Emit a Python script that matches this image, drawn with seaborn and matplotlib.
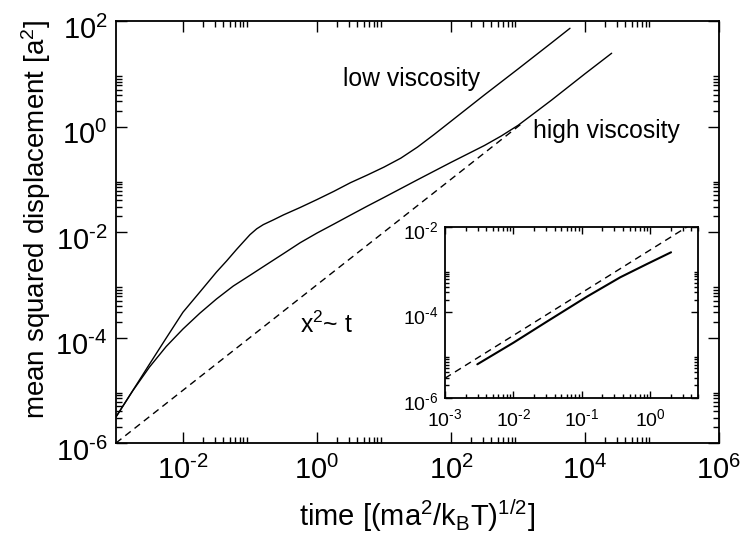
import numpy as np
import pandas as pd
import matplotlib
matplotlib.use("Agg")
import matplotlib.pyplot as plt
from matplotlib.ticker import FixedLocator, FuncFormatter, NullFormatter
from matplotlib.transforms import ScaledTranslation
import seaborn as sns

# ---------------- data ----------------
low_visc_t = [1.0e-3, 1.78e-3, 3.16e-3, 5.62e-3, 1.0e-2, 1.78e-2, 3.16e-2, 4.47e-2,
              6.31e-2, 7.94e-2, 0.1, 0.126, 0.158, 0.224, 0.316, 0.562, 1.0, 1.78,
              3.16, 5.62, 10.0, 17.8, 31.6, 56.2, 100.0, 316.0, 1000.0, 3160.0, 5970.0]
low_visc_msd = [3.12e-6, 9.86e-6, 3.12e-5, 9.77e-5, 3.02e-4, 7.24e-4, 1.74e-3, 2.82e-3,
                4.68e-3, 6.46e-3, 8.91e-3, 1.15e-2, 1.38e-2, 1.70e-2, 2.11e-2, 2.92e-2,
                4.12e-2, 5.89e-2, 8.61e-2, 0.120, 0.170, 0.251, 0.407, 0.708, 1.259,
                3.98, 12.3, 38.5, 72.8]

high_visc_t = [1.0e-3, 1.78e-3, 3.16e-3, 5.62e-3, 1.0e-2, 1.78e-2, 3.16e-2, 5.62e-2,
               0.1, 0.178, 0.316, 0.562, 1.0, 1.78, 3.16, 5.62, 10.0, 31.6, 100.0,
               316.0, 562.0, 1000.0, 1780.0, 3160.0, 10000.0, 25000.0]
high_visc_msd = [3.12e-6, 9.77e-6, 2.75e-5, 6.76e-5, 1.45e-4, 2.88e-4, 5.37e-4, 9.44e-4,
                 1.51e-3, 2.43e-3, 3.89e-3, 6.27e-3, 9.55e-3, 1.41e-2, 2.09e-2, 3.09e-2,
                 4.52e-2, 9.77e-2, 0.209, 0.437, 0.661, 1.05, 1.82, 3.16, 10.0, 24.5]

diffusive_t = [1e-3, 1.2e3]
diffusive_msd = [1e-6, 1.2]

inset_t = [2.97e-3, 1e-2, 3.08e-2, 0.1186, 0.366, 0.897, 2.02]
inset_msd = [6.14e-6, 1.96e-5, 6.10e-5, 2.34e-4, 6.67e-4, 1.36e-3, 2.56e-3]
inset_ref_t = [1e-3, 5.0]
inset_ref_msd = [2.9e-6, 1.45e-2]

main_major_x = [1e-2, 1e0, 1e2, 1e4, 1e6]
main_major_y = [1e-6, 1e-4, 1e-2, 1e0, 1e2]
inset_major_x = [1e-3, 1e-2, 1e-1, 1e0]
inset_major_y = [1e-6, 1e-4, 1e-2]

labels = {
    "low": "low viscosity",
    "high": "high viscosity",
    "slope": "x$^2$~ t",
    "xlabel": "time [(ma$^2$/k$_B$T)$^{1/2}$]",
    "ylabel": "mean squared displacement [a$^2$]",
}

# ---------------- style ----------------
sns.set_theme(style="ticks")
plt.rcParams.update({
    "font.family": ["Liberation Sans", "DejaVu Sans"],
    "mathtext.fontset": "custom",
    "mathtext.rm": "Liberation Sans",
    "mathtext.it": "Liberation Sans:italic",
    "mathtext.bf": "Liberation Sans:bold",
    "mathtext.default": "regular",
    "axes.unicode_minus": False,
    "axes.linewidth": 1.3,
    "axes.edgecolor": "black",
    "axes.labelcolor": "black",
    "text.color": "black",
    "xtick.color": "black",
    "ytick.color": "black",
    "axes.facecolor": "white",
    "figure.facecolor": "white",
})


def pow10(v, pos):
    e = int(round(np.log10(v)))
    return "10$^{\\text{%d}}$" % e


fig = plt.figure(figsize=(7.43, 5.36), dpi=100)
ax = fig.add_axes([0.1561, 0.1735, 0.8116, 0.7873])

df_low = pd.DataFrame({"t": low_visc_t, "msd": low_visc_msd})
df_high = pd.DataFrame({"t": high_visc_t, "msd": high_visc_msd})
df_diff = pd.DataFrame({"t": diffusive_t, "msd": diffusive_msd})

sns.lineplot(data=df_low, x="t", y="msd", ax=ax, color="black", lw=1.0,
             estimator=None, sort=False)
sns.lineplot(data=df_high, x="t", y="msd", ax=ax, color="black", lw=1.0,
             estimator=None, sort=False)
sns.lineplot(data=df_diff, x="t", y="msd", ax=ax, color="black", lw=1.0,
             linestyle=(0, (5, 3.5)), estimator=None, sort=False)


def setup_log_axes(a, xlim, ylim, xmaj, ymaj, xmin_dec, ymin_dec, fs, lmaj, lmin,
                   xpad, ypad):
    a.set_xscale("log")
    a.set_yscale("log")
    a.set_xlim(*xlim)
    a.set_ylim(*ylim)
    a.xaxis.set_major_locator(FixedLocator(xmaj))
    a.yaxis.set_major_locator(FixedLocator(ymaj))
    a.xaxis.set_minor_locator(FixedLocator([m * d for d in xmin_dec for m in range(2, 10)]))
    a.yaxis.set_minor_locator(FixedLocator([m * d for d in ymin_dec for m in range(2, 10)]))
    a.xaxis.set_major_formatter(FuncFormatter(pow10))
    a.yaxis.set_major_formatter(FuncFormatter(pow10))
    a.xaxis.set_minor_formatter(NullFormatter())
    a.yaxis.set_minor_formatter(NullFormatter())
    a.tick_params(which="both", direction="in", top=True, right=True, width=1.0,
                  labelsize=fs)
    a.tick_params(axis="x", pad=xpad)
    a.tick_params(axis="y", pad=ypad)
    a.tick_params(which="major", length=lmaj)
    a.tick_params(which="minor", length=lmin)
    for s in a.spines.values():
        s.set_visible(True)
        s.set_color("black")


setup_log_axes(ax, (1e-3, 1e6), (1e-6, 1e2), main_major_x, main_major_y,
               [1e-2, 1e0, 1e2, 1e4], [1e-6, 1e-4, 1e-2, 1e0], 21, 8, 4.5, 9.5, 6)

ax.set_xlabel(labels["xlabel"], fontsize=21)
ax.set_ylabel(labels["ylabel"], fontsize=20)
ax.yaxis.set_label_coords(-0.105, 0.53)
ax.xaxis.set_label_coords(0.5, -0.128)

ax.text(0.3765, 0.846, labels["low"], transform=ax.transAxes, fontsize=17.8,
        ha="left", va="baseline")
ax.text(0.6915, 0.7235, labels["high"], transform=ax.transAxes, fontsize=17.8,
        ha="left", va="baseline")
ax.text(0.305, 0.261, labels["slope"], transform=ax.transAxes, fontsize=17.8,
        ha="left", va="baseline")

# ---------------- inset ----------------
axi = fig.add_axes([0.5989, 0.2575, 0.3405, 0.3190])
df_in = pd.DataFrame({"t": inset_t, "msd": inset_msd})
df_in_ref = pd.DataFrame({"t": inset_ref_t, "msd": inset_ref_msd})
sns.lineplot(data=df_in, x="t", y="msd", ax=axi, color="black", lw=1.5,
             estimator=None, sort=False)
sns.lineplot(data=df_in_ref, x="t", y="msd", ax=axi, color="black", lw=1.0,
             linestyle=(0, (5, 3.5)), estimator=None, sort=False)
setup_log_axes(axi, (1e-3, 5.0), (1e-6, 1e-2), inset_major_x, inset_major_y,
               [1e-3, 1e-2, 1e-1, 1e0], [1e-6, 1e-4], 14, 5, 3, 7.5, 5)
axi.set_xlabel("")
axi.set_ylabel("")

# y tick labels sit slightly below their ticks in the reference
off_main = ScaledTranslation(0, -6 / 100, fig.dpi_scale_trans)
for tk in ax.yaxis.get_major_ticks():
    tk.label1.set_transform(tk.label1.get_transform() + off_main)
off_in = ScaledTranslation(0, -3 / 100, fig.dpi_scale_trans)
for tk in axi.yaxis.get_major_ticks():
    tk.label1.set_transform(tk.label1.get_transform() + off_in)

fig.savefig("out.png", dpi=100)
